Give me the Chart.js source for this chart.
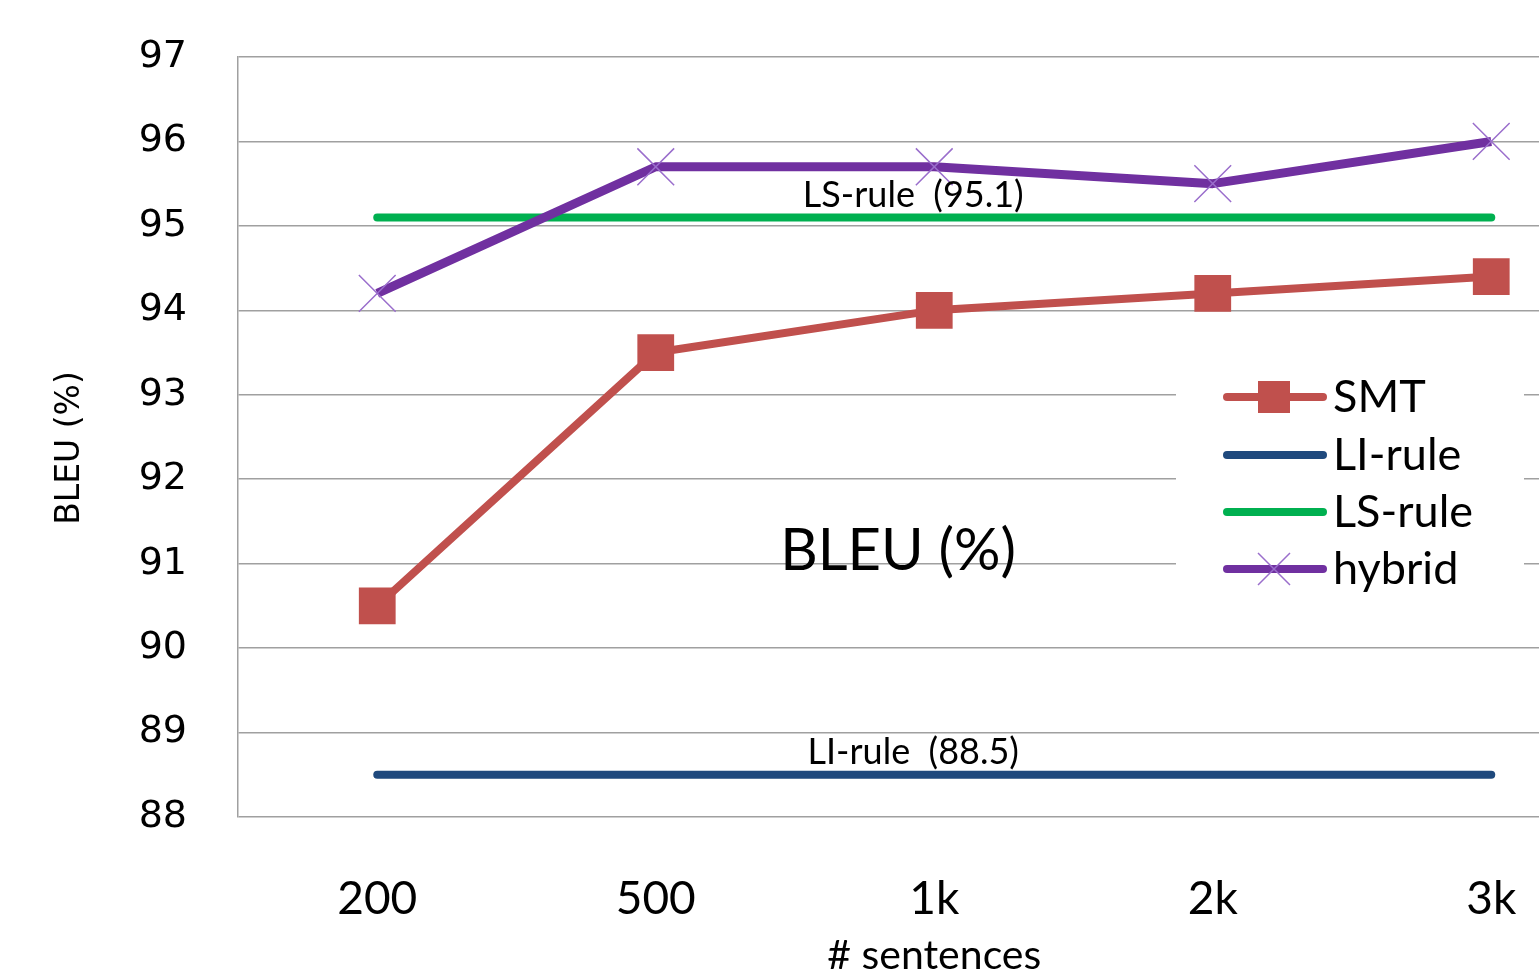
<!DOCTYPE html>
<html>
<head>
<meta charset="utf-8">
<script src="https://cdn.jsdelivr.net/npm/chart.js@4.4.1/dist/chart.umd.min.js"></script>
<style>
  html, body { margin: 0; padding: 0; background: #fff; overflow: hidden; }
  #wrap { position: absolute; left: 0; top: 0; width: 1658px; height: 973px; }
</style>
</head>
<body>
<div id="wrap"><canvas id="c" width="1658" height="973"></canvas></div>
<script>
// ---- data ----
const categories = ['200', '500', '1k', '2k', '3k'];
const smtValues = [90.5, 93.5, 94.0, 94.2, 94.4];
const liRuleValues = [88.5, 88.5, 88.5, 88.5, 88.5];
const lsRuleValues = [95.1, 95.1, 95.1, 95.1, 95.1];
const hybridValues = [94.2, 95.7, 95.7, 95.5, 96.0];
const yTicks = [88, 89, 90, 91, 92, 93, 94, 95, 96, 97];
const seriesNames = ['SMT', 'LI-rule', 'LS-rule', 'hybrid'];
const yTitle = 'BLEU (%)';
const xTitle = '# sentences';
const lineLabels = [
  { text: 'LS-rule  (95.1)', value: 95.1 },
  { text: 'LI-rule  (88.5)', value: 88.5 }
];

const COL_SMT = '#C0504D', COL_LI = '#1F497D', COL_LS = '#00B050', COL_HY = '#7030A0', COL_HYM = '#9A6ECC';

const overlayPlugin = {
  id: 'overlay',
  beforeDatasetsDraw(chart) {
    const ctx = chart.ctx;
    ctx.save();
    ctx.fillStyle = '#fff';
    ctx.fillRect(1176, 372, 348, 226);
    ctx.restore();
  },
  afterDatasetsDraw(chart) {
    const ctx = chart.ctx;
    const x = chart.scales.x, y = chart.scales.y;
    ctx.save();
    // y axis title
    ctx.save();
    ctx.translate(70, 448);
    ctx.rotate(-Math.PI / 2);
    ctx.fillStyle = '#000';
    ctx.font = '33px "DejaVu Sans"';
    ctx.textAlign = 'center';
    ctx.textBaseline = 'middle';
    ctx.fillText(yTitle, 0, 0);
    ctx.restore();
    // line annotations
    ctx.fillStyle = '#000';
    ctx.font = '36px Lato';
    ctx.textAlign = 'center';
    ctx.textBaseline = 'middle';
    const cx = x.getPixelForValue(2) - 21;
    lineLabels.forEach(l => {
      ctx.fillText(l.text, cx, y.getPixelForValue(l.value) - 22);
    });
    // centre label
    ctx.font = '58px Lato';
    ctx.fillText('BLEU (%)', 898, 551);

    // legend
    const rows = [
      { name: seriesNames[0], color: COL_SMT, marker: 'rect' },
      { name: seriesNames[1], color: COL_LI },
      { name: seriesNames[2], color: COL_LS },
      { name: seriesNames[3], color: COL_HY, marker: 'cross' }
    ];
    const ys = [397, 455, 512, 569];
    rows.forEach((r, i) => {
      const yy = ys[i];
      ctx.strokeStyle = r.color;
      ctx.lineWidth = 8;
      ctx.lineCap = 'round';
      ctx.beginPath();
      ctx.moveTo(1227, yy); ctx.lineTo(1323, yy); ctx.stroke();
      if (r.marker === 'rect') {
        ctx.fillStyle = r.color;
        ctx.fillRect(1258, yy - 16, 32, 32);
      } else if (r.marker === 'cross') {
        ctx.strokeStyle = COL_HYM; ctx.lineWidth = 1.5; ctx.lineCap = 'butt';
        ctx.beginPath();
        ctx.moveTo(1258, yy - 16); ctx.lineTo(1290, yy + 16);
        ctx.moveTo(1290, yy - 16); ctx.lineTo(1258, yy + 16);
        ctx.stroke();
      }
      ctx.fillStyle = '#000';
      ctx.font = '45px Lato';
      ctx.textAlign = 'left';
      ctx.textBaseline = 'middle';
      ctx.fillText(r.name, 1333, yy);
    });
    ctx.restore();
  }
};

new Chart(document.getElementById('c'), {
  type: 'line',
  data: {
    labels: categories,
    datasets: [
      { label: seriesNames[0], data: smtValues, borderColor: COL_SMT, backgroundColor: COL_SMT,
        borderWidth: 8, pointStyle: 'rect', pointRadius: 26, pointBorderWidth: 0, pointBackgroundColor: COL_SMT, order: 1 },
      { label: seriesNames[1], data: liRuleValues, borderColor: COL_LI, borderWidth: 8,
        borderCapStyle: 'round', pointRadius: 0, order: 3 },
      { label: seriesNames[2], data: lsRuleValues, borderColor: COL_LS, borderWidth: 8,
        borderCapStyle: 'round', pointRadius: 0, order: 2 },
      { label: seriesNames[3], data: hybridValues, borderColor: COL_HY, borderWidth: 9,
        pointStyle: 'crossRot', pointRadius: 26, pointBorderWidth: 1.5, pointBorderColor: COL_HYM, order: 0 }
    ]
  },
  options: {
    responsive: false,
    animation: false,
    layout: { padding: { top: 57, left: 0, right: 0, bottom: 0 } },
    plugins: { legend: { display: false }, tooltip: { enabled: false } },
    elements: { line: { tension: 0, borderJoinStyle: 'round' } },
    scales: {
      x: {
        type: 'category',
        offset: true,
        grid: { display: false, drawTicks: false },
        border: { display: false },
        ticks: { color: '#000', font: { family: 'Lato', size: 46 }, padding: 55, maxRotation: 0 },
        title: { display: true, text: xTitle, color: '#000', font: { family: 'Lato', size: 41, lineHeight: 1 }, padding: { top: 0, bottom: -3 } },
        afterFit(s) { s.height = 156; }
      },
      y: {
        min: 88, max: 97,
        afterBuildTicks(s) { s.ticks = yTicks.map(v => ({ value: v })); },
        grid: { color: '#a0a0a0', lineWidth: 1.5, drawTicks: false },
        border: { display: true, color: '#a0a0a0', width: 1.5 },
        ticks: { color: '#000', font: { family: 'DejaVu Sans', size: 38 }, padding: 51 },
        title: { display: false },
        afterFit(s) { s.width = 238; s.paddingTop = 0; s.paddingBottom = 0; }
      }
    }
  },
  plugins: [overlayPlugin]
});
</script>
</body>
</html>
